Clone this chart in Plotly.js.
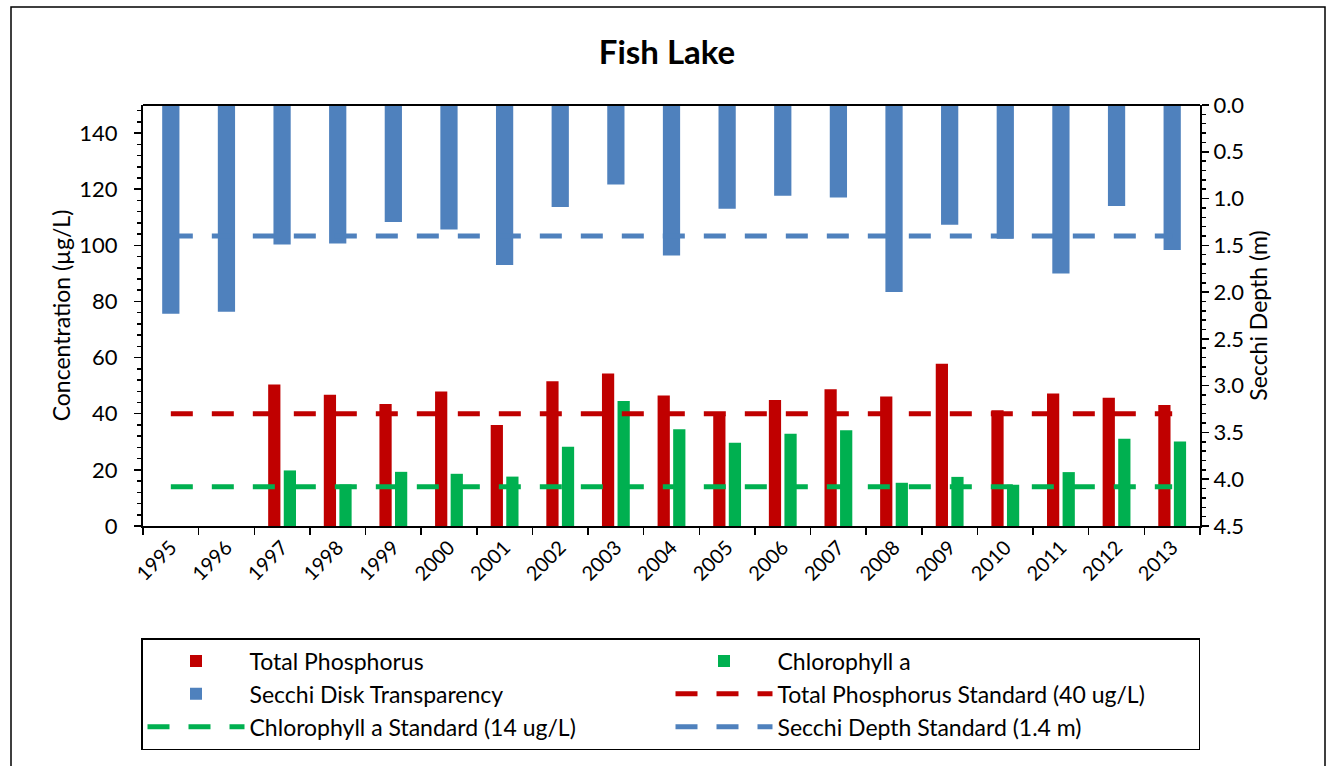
<!DOCTYPE html>
<html>
<head>
<meta charset="utf-8">
<script src="https://cdn.plot.ly/plotly-3.0.1.min.js"></script>
<style>
  html, body { margin: 0; padding: 0; background: #fff; }
  #chart { width: 1334px; height: 766px; }
</style>
</head>
<body>
<div id="chart"></div>
<script>
// Fish Lake water quality, 1995-2013
const years = ['1995', '1996', '1997', '1998', '1999', '2000', '2001', '2002', '2003', '2004',
               '2005', '2006', '2007', '2008', '2009', '2010', '2011', '2012', '2013'];

// Total phosphorus (ug/L), no samples in 1995-1996
const totalPhosphorus = [null, null, 50.4, 46.8, 43.5, 47.9, 36.0, 51.6, 54.3, 46.5,
                         39.5, 44.9, 48.7, 46.1, 57.8, 41.2, 47.2, 45.7, 43.1];

// Chlorophyll a (ug/L)
const chlorophyll = [null, null, 19.8, 14.8, 19.3, 18.6, 17.6, 28.2, 44.5, 34.5,
                     29.7, 32.9, 34.1, 15.4, 17.5, 14.7, 19.2, 31.1, 30.1];

// Secchi disk depth (m)
const secchiDepth = [2.23, 2.21, 1.49, 1.48, 1.25, 1.33, 1.71, 1.09, 0.85, 1.61,
                     1.11, 0.97, 0.99, 2.00, 1.28, 1.43, 1.80, 1.08, 1.55];

// Standards
const tpStandard = 40;
const chlStandard = 14;
const secchiStandard = 1.4;

const RED = '#C00000';
const GREEN = '#00B050';
const BLUE = '#4F81BD';
const FONT = 'Lato, "Open Sans", sans-serif';

const traces = [
    {
        type: 'bar', name: 'Total Phosphorus', x: years, y: totalPhosphorus,
        marker: { color: RED }, width: 0.22, offset: -0.25, yaxis: 'y'
    },
    {
        type: 'bar', name: 'Chlorophyll a', x: years, y: chlorophyll,
        marker: { color: GREEN }, width: 0.22, offset: 0.03, yaxis: 'y'
    },
    {
        type: 'bar', name: 'Secchi Disk Transparency', x: years, y: secchiDepth,
        marker: { color: BLUE }, width: 0.31, offset: -0.155, yaxis: 'y2'
    },
    {
        type: 'scatter', mode: 'lines', name: 'Total Phosphorus Standard (40 ug/L)',
        x: years, y: years.map(() => tpStandard),
        line: { color: RED, width: 5, dash: '22px,19px' }, yaxis: 'y'
    },
    {
        type: 'scatter', mode: 'lines', name: 'Chlorophyll a Standard (14 ug/L)',
        x: years, y: years.map(() => chlStandard),
        line: { color: GREEN, width: 5, dash: '22px,19px' }, yaxis: 'y'
    },
    {
        type: 'scatter', mode: 'lines', name: 'Secchi Depth Standard (1.4 m)',
        x: years, y: years.map(() => secchiStandard),
        line: { color: BLUE, width: 5, dash: '22px,19px' }, yaxis: 'y2'
    }
];

const layout = {
    width: 1334,
    height: 766,
    paper_bgcolor: '#fff',
    plot_bgcolor: '#fff',
    font: { family: FONT, size: 22, color: '#000' },
    margin: { l: 143, r: 134, t: 105, b: 240, autoexpand: false },
    barmode: 'overlay',
    showlegend: true,
    title: {
        text: 'Fish Lake',
        font: { family: FONT, size: 33, weight: 'bold', color: '#000' },
        x: 0.5, xanchor: 'center',
        y: 1 - 52 / 766, yanchor: 'middle'
    },
    xaxis: {
        type: 'category',
        range: [-0.5, 18.5],
        tickangle: -45,
        tickfont: { size: 20 },
        ticks: 'outside', ticklen: 7, tickwidth: 1.5, tickcolor: '#000',
        tickson: 'boundaries',
        showline: true, linecolor: '#000', linewidth: 2,
        showgrid: false, zeroline: false,
        mirror: false
    },
    yaxis: {
        range: [0, 150],
        dtick: 20,
        tick0: 0,
        tickfont: { size: 22 },
        ticks: 'outside', ticklen: 7, tickwidth: 1.5, tickcolor: '#000',
        ticklabelstandoff: 12,
        minor: { dtick: 4, ticks: 'outside', ticklen: 4, tickwidth: 1.5, tickcolor: '#000' },
        showline: true, linecolor: '#000', linewidth: 2,
        showgrid: false, zeroline: false,
        title: { text: 'Concentration (µg/L)', font: { size: 23 }, standoff: 2 }
    },
    yaxis2: {
        overlaying: 'y',
        side: 'right',
        range: [4.5, 0],
        dtick: 0.5,
        tick0: 0,
        tickformat: '.1f',
        tickfont: { size: 22 },
        ticks: 'outside', ticklen: 7, tickwidth: 1.5, tickcolor: '#000',
        minor: { dtick: 0.1, ticks: 'outside', ticklen: 4, tickwidth: 1.5, tickcolor: '#000' },
        showline: true, linecolor: '#000', linewidth: 2,
        showgrid: false, zeroline: false,
        title: { text: 'Secchi Depth (m)', font: { size: 23 }, standoff: 4 }
    },
    legend: {
        orientation: 'h',
        xref: 'container', yref: 'container',
        x: 141 / 1334, xanchor: 'left',
        y: 1 - 638 / 766, yanchor: 'top',
        entrywidth: 416,
        itemwidth: 97,
        font: { family: FONT, size: 23, color: '#000' },
        bordercolor: '#000',
        borderwidth: 1.5,
        bgcolor: '#fff',
        traceorder: 'normal'
    },
    shapes: [
        // chart border
        {
            type: 'rect', xref: 'paper', yref: 'paper',
            x0: (11 - 143) / 1057, x1: (1325 - 143) / 1057,
            y0: (526 - 780) / 421, y1: (526 - 7) / 421,
            line: { color: '#000', width: 1.5 },
            layer: 'below'
        },
        {
            type: 'line', xref: 'paper', yref: 'paper',
            x0: 0, x1: 1, y0: 1, y1: 1,
            line: { color: '#000', width: 2 }
        }
    ]
};

Plotly.newPlot('chart', traces, layout, { displayModeBar: false, staticPlot: true });
</script>
</body>
</html>
